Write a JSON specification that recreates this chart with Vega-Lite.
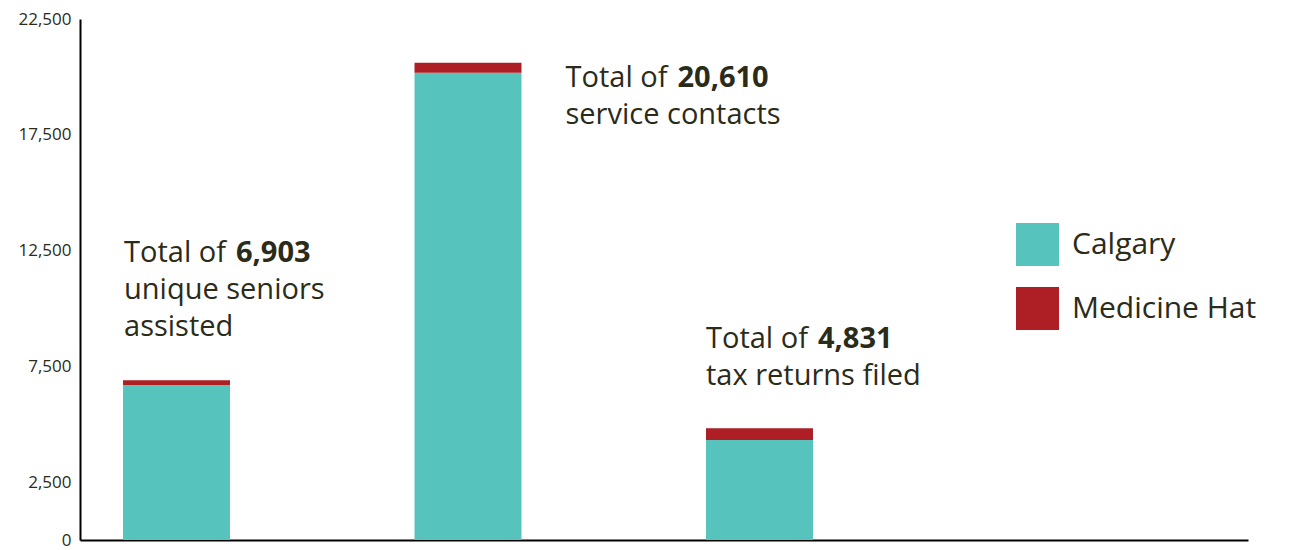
{
  "$schema": "https://vega.github.io/schema/vega-lite/v6.json",
  "width": 1168,
  "height": 521,
  "autosize": "none",
  "padding": {"left": 80, "top": 19, "right": 43, "bottom": 10},
  "background": "white",
  "config": {
    "view": {"stroke": null},
    "font": "Open Sans",
    "text": {"font": "Open Sans", "color": "#2b2b1a"}
  },
  "datasets": {
    "counts": [
      {"program": "Unique seniors assisted", "city": "Calgary", "count": 6693},
      {"program": "Unique seniors assisted", "city": "Medicine Hat", "count": 210},
      {"program": "Service contacts", "city": "Calgary", "count": 20177},
      {"program": "Service contacts", "city": "Medicine Hat", "count": 433},
      {"program": "Tax returns filed", "city": "Calgary", "count": 4318},
      {"program": "Tax returns filed", "city": "Medicine Hat", "count": 513}
    ],
    "totals": [
      {"program": "Unique seniors assisted", "total": 6903, "number": "6,903", "lines": "Total of\nunique seniors\nassisted"},
      {"program": "Service contacts", "total": 20610, "number": "20,610", "lines": "Total of\nservice contacts"},
      {"program": "Tax returns filed", "total": 4831, "number": "4,831", "lines": "Total of\ntax returns filed"}
    ]
  },
  "layer": [
    {
      "data": {"name": "counts"},
      "mark": {"type": "bar"},
      "encoding": {
        "x": {
          "field": "program",
          "type": "nominal",
          "sort": ["Unique seniors assisted", "Service contacts", "Tax returns filed"],
          "scale": {"domain": ["Unique seniors assisted", "Service contacts", "Tax returns filed"], "paddingInner": 0.633, "paddingOuter": 0.82, "align": 0.09},
          "axis": {"title": null, "labels": false, "ticks": false, "domainColor": "#000000", "domainWidth": 2}
        },
        "y": {
          "field": "count",
          "type": "quantitative",
          "stack": "zero",
          "scale": {"domain": [0, 22500], "nice": false, "zero": true},
          "axis": {
            "title": null,
            "values": [0, 2500, 7500, 12500, 17500, 22500],
            "format": ",d",
            "grid": false,
            "ticks": false,
            "labelPadding": 9,
            "labelFont": "Open Sans",
            "labelFontSize": 17,
            "labelColor": "#2b2b1a",
            "domainColor": "#000000",
            "domainWidth": 2
          }
        },
        "color": {
          "field": "city",
          "type": "nominal",
          "scale": {"domain": ["Calgary", "Medicine Hat"], "range": ["#56c3bc", "#ad1f25"]},
          "legend": {
            "title": null,
            "orient": "none",
            "legendX": 936,
            "legendY": 204,
            "symbolType": "square",
            "symbolSize": 1849,
            "symbolStrokeWidth": 0,
            "symbolOpacity": 1,
            "labelFont": "Open Sans",
            "labelFontSize": 30,
            "labelColor": "#2b2b1a",
            "labelOffset": 13,
            "rowPadding": 21,
            "padding": 0,
            "labelLimit": 400
          }
        },
        "order": {"field": "city", "sort": "ascending"}
      }
    },
    {
      "data": {"name": "totals"},
      "transform": [{"filter": "datum.program === 'Unique seniors assisted'"}],
      "mark": {"type": "text", "align": "left", "baseline": "alphabetic", "fontSize": 29, "lineHeight": 37, "lineBreak": "\n", "dx": 1, "dy": -118},
      "encoding": {
        "x": {"field": "program", "type": "nominal", "bandPosition": 0, "sort": ["Unique seniors assisted", "Service contacts", "Tax returns filed"]},
        "y": {"field": "total", "type": "quantitative"},
        "text": {"field": "lines"}
      }
    },
    {
      "data": {"name": "totals"},
      "transform": [{"filter": "datum.program === 'Unique seniors assisted'"}],
      "mark": {"type": "text", "align": "left", "baseline": "alphabetic", "fontSize": 29, "fontWeight": "bold", "dx": 113, "dy": -118},
      "encoding": {
        "x": {"field": "program", "type": "nominal", "bandPosition": 0, "sort": ["Unique seniors assisted", "Service contacts", "Tax returns filed"]},
        "y": {"field": "total", "type": "quantitative"},
        "text": {"field": "number"}
      }
    },
    {
      "data": {"name": "totals"},
      "transform": [{"filter": "datum.program === 'Service contacts'"}],
      "mark": {"type": "text", "align": "left", "baseline": "alphabetic", "fontSize": 29, "lineHeight": 37, "lineBreak": "\n", "dx": 151, "dy": 24},
      "encoding": {
        "x": {"field": "program", "type": "nominal", "bandPosition": 0, "sort": ["Unique seniors assisted", "Service contacts", "Tax returns filed"]},
        "y": {"field": "total", "type": "quantitative"},
        "text": {"field": "lines"}
      }
    },
    {
      "data": {"name": "totals"},
      "transform": [{"filter": "datum.program === 'Service contacts'"}],
      "mark": {"type": "text", "align": "left", "baseline": "alphabetic", "fontSize": 29, "fontWeight": "bold", "dx": 263, "dy": 24},
      "encoding": {
        "x": {"field": "program", "type": "nominal", "bandPosition": 0, "sort": ["Unique seniors assisted", "Service contacts", "Tax returns filed"]},
        "y": {"field": "total", "type": "quantitative"},
        "text": {"field": "number"}
      }
    },
    {
      "data": {"name": "totals"},
      "transform": [{"filter": "datum.program === 'Tax returns filed'"}],
      "mark": {"type": "text", "align": "left", "baseline": "alphabetic", "fontSize": 29, "lineHeight": 37, "lineBreak": "\n", "dx": 0, "dy": -80},
      "encoding": {
        "x": {"field": "program", "type": "nominal", "bandPosition": 0, "sort": ["Unique seniors assisted", "Service contacts", "Tax returns filed"]},
        "y": {"field": "total", "type": "quantitative"},
        "text": {"field": "lines"}
      }
    },
    {
      "data": {"name": "totals"},
      "transform": [{"filter": "datum.program === 'Tax returns filed'"}],
      "mark": {"type": "text", "align": "left", "baseline": "alphabetic", "fontSize": 29, "fontWeight": "bold", "dx": 112, "dy": -80},
      "encoding": {
        "x": {"field": "program", "type": "nominal", "bandPosition": 0, "sort": ["Unique seniors assisted", "Service contacts", "Tax returns filed"]},
        "y": {"field": "total", "type": "quantitative"},
        "text": {"field": "number"}
      }
    }
  ]
}
